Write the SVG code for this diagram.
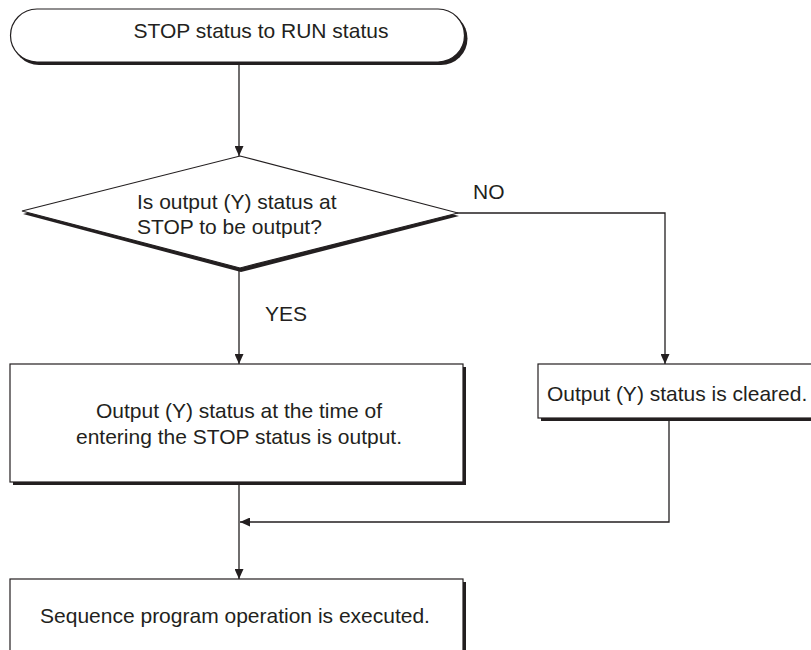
<svg xmlns="http://www.w3.org/2000/svg" width="811" height="650" viewBox="0 0 811 650">
<defs>
<style>
.shape{fill:#fff;stroke:#231f20;stroke-width:1.2}
.shadow{fill:#231f20;stroke:none}
.line{fill:none;stroke:#231f20;stroke-width:1.3}
text{font-family:"Liberation Sans",Arial,sans-serif;font-size:21px;fill:#231f20}
.c{text-anchor:middle}
</style>
<marker id="arr" viewBox="0 0 10 10" refX="10" refY="5" markerWidth="10" markerHeight="9" markerUnits="userSpaceOnUse" orient="auto" preserveAspectRatio="none">
<path d="M0,0 L10,5 L0,10 Z" fill="#231f20"/>
</marker>
</defs>
<rect width="811" height="650" fill="#fff"/>

<g id="connectors">
<line class="line" x1="239" y1="63" x2="239" y2="156" marker-end="url(#arr)"/>
<line class="line" x1="239" y1="269" x2="239" y2="364" marker-end="url(#arr)"/>
<polyline class="line" points="457,213 665,213 665,364" marker-end="url(#arr)"/>
<polyline class="line" points="669,421 669,522 240,522" marker-end="url(#arr)"/>
<line class="line" x1="239" y1="483" x2="239" y2="579" marker-end="url(#arr)"/>
<text x="265" y="321">YES</text>
<text x="473" y="199">NO</text>
</g>

<g id="start">
<path class="shadow" d="M39,12 H441 A26.5,26.5 0 0 1 441,65 H39 A26.5,26.5 0 0 1 39,12 Z"/>
<path class="shape" d="M37,9 H438 A26.5,26.5 0 0 1 438,62 H37 A26.5,26.5 0 0 1 37,9 Z"/>
<text class="c" x="261" y="38">STOP status to RUN status</text>
</g>

<g id="decision">
<path class="shadow" d="M240,159 L459,216 L241,272 L23,214 Z"/>
<path class="shape" d="M240,156 L458,213 L240,268 L22,211 Z"/>
<text x="137" y="209">Is output (Y) status at</text>
<text x="137" y="234">STOP to be output?</text>
</g>

<g id="output-stop">
<rect class="shadow" x="13" y="367" width="453" height="118"/>
<rect class="shape" x="10" y="364" width="453" height="118"/>
<text class="c" x="239" y="418">Output (Y) status at the time of</text>
<text class="c" x="239" y="444">entering the STOP status is output.</text>
</g>

<g id="cleared">
<rect class="shadow" x="541" y="367" width="290" height="54"/>
<rect class="shape" x="538" y="364" width="290" height="54"/>
<text x="547" y="401">Output (Y) status is cleared.</text>
</g>

<g id="sequence">
<rect class="shadow" x="13" y="582" width="453" height="90"/>
<rect class="shape" x="10" y="579" width="453" height="90"/>
<text class="c" x="235" y="623">Sequence program operation is executed.</text>
</g>
</svg>
